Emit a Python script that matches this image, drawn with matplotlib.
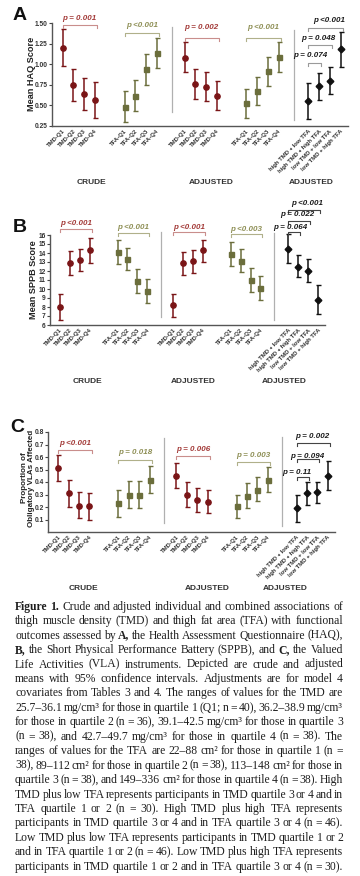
import matplotlib.pyplot as plt

plt.rcParams['font.family'] = ['Liberation Sans', 'DejaVu Sans']

W, H = 360, 876


def fx(x):
    return x / W


def fy(y):
    return 1 - y / H


# x tick labels (20 points per panel)
tick_labels = ['TMD-Q1', 'TMD-Q2', 'TMD-Q3', 'TMD-Q4',
               'TFA-Q1', 'TFA-Q2', 'TFA-Q3', 'TFA-Q4',
               'TMD-Q1', 'TMD-Q2', 'TMD-Q3', 'TMD-Q4',
               'TFA-Q1', 'TFA-Q2', 'TFA-Q3', 'TFA-Q4',
               'high TMD + low TFA', 'high TMD + high TFA',
               'low TMD + low TFA', 'low TMD + high TFA']
group_names = ['CRUDE', 'ADJUSTED', 'ADJUSTED']
group_kind = ['tmd', 'tfa', 'tmd', 'tfa', 'comb']

# A - HAQ
haq_mean = [1.20, 0.75, 0.64, 0.56, 0.48, 0.62, 0.94, 1.14, 1.08, 0.76,
            0.72, 0.62, 0.53, 0.68, 0.92, 1.09, 0.55, 0.73, 0.80, 1.18]
haq_hi = [1.43, 0.94, 0.83, 0.78, 0.67, 0.81, 1.12, 1.32, 1.27, 0.94,
          0.90, 0.80, 0.70, 0.85, 1.09, 1.27, 0.77, 0.89, 0.97, 1.39]
haq_lo = [0.98, 0.55, 0.44, 0.35, 0.30, 0.43, 0.75, 0.95, 0.90, 0.58,
          0.55, 0.45, 0.35, 0.51, 0.74, 0.91, 0.34, 0.57, 0.64, 0.97]
haq_p = ['p = 0.001', 'p <0.001', 'p = 0.002', 'p <0.001']
haq_pc = ['p = 0.074', 'p = 0.048', 'p <0.001']

# B - SPPB
sppb_mean = [8.0, 12.9, 13.2, 14.3, 14.1, 13.3, 10.9, 9.8, 8.2, 12.9,
             13.1, 14.3, 13.9, 13.1, 11.0, 10.1, 14.5, 12.5, 12.0, 8.8]
sppb_hi = [9.4, 14.2, 14.5, 15.7, 15.4, 14.6, 12.2, 11.1, 9.5, 14.1,
           14.3, 15.5, 15.2, 14.4, 12.3, 11.4, 16.1, 13.8, 13.3, 10.4]
sppb_lo = [6.6, 11.6, 12.0, 12.9, 12.8, 12.1, 9.6, 8.5, 6.9, 11.6,
           11.8, 13.0, 12.6, 11.9, 9.7, 8.8, 12.9, 11.3, 10.8, 7.2]
sppb_p = ['p <0.001', 'p <0.001', 'p <0.001', 'p <0.003']
sppb_pc = ['p = 0.064', 'p = 0.022', 'p <0.001']

# C - VLA
vla_mean = [0.51, 0.31, 0.21, 0.21, 0.23, 0.30, 0.30, 0.42, 0.45, 0.30,
            0.26, 0.24, 0.21, 0.29, 0.34, 0.42, 0.19, 0.31, 0.32, 0.45]
vla_hi = [0.62, 0.42, 0.32, 0.31, 0.34, 0.41, 0.41, 0.53, 0.55, 0.40,
          0.35, 0.34, 0.30, 0.39, 0.44, 0.52, 0.30, 0.40, 0.40, 0.57]
vla_lo = [0.41, 0.20, 0.11, 0.10, 0.12, 0.19, 0.19, 0.31, 0.35, 0.20,
          0.16, 0.15, 0.11, 0.19, 0.25, 0.32, 0.08, 0.22, 0.23, 0.34]
vla_p = ['p <0.001', 'p = 0.018', 'p = 0.006', 'p = 0.003']
vla_pc = ['p = 0.11', 'p = 0.094', 'p = 0.002']

caption = [
    'Figure 1. Crude and adjusted individual and combined associations of',
    'thigh muscle density (TMD) and thigh fat area (TFA) with functional',
    'outcomes assessed by A, the Health Assessment Questionnaire (HAQ),',
    'B, the Short Physical Performance Battery (SPPB), and C, the Valued',
    'Life Activities (VLA) instruments. Depicted are crude and adjusted',
    'means with 95% confidence intervals. Adjustments are for model 4',
    'covariates from Tables 3 and 4. The ranges of values for the TMD are',
    '25.7\u201336.1 mg/cm\u00b3 for those in quartile 1 (Q1; n = 40), 36.2\u201338.9 mg/cm\u00b3',
    'for those in quartile 2 (n = 36), 39.1\u201342.5 mg/cm\u00b3 for those in quartile 3',
    '(n = 38), and 42.7\u201349.7 mg/cm\u00b3 for those in quartile 4 (n = 38). The',
    'ranges of values for the TFA are 22\u201388 cm\u00b2 for those in quartile 1 (n =',
    '38), 89\u2013112 cm\u00b2 for those in quartile 2 (n = 38), 113\u2013148 cm\u00b2 for those in',
    'quartile 3 (n = 38), and 149\u2013336 cm\u00b2 for those in quartile 4 (n = 38). High',
    'TMD plus low TFA represents participants in TMD quartile 3 or 4 and in',
    'TFA quartile 1 or 2 (n = 30). High TMD plus high TFA represents',
    'participants in TMD quartile 3 or 4 and in TFA quartile 3 or 4 (n = 46).',
    'Low TMD plus low TFA represents participants in TMD quartile 1 or 2',
    'and in TFA quartile 1 or 2 (n = 46). Low TMD plus high TFA represents',
    'participants in TMD quartile 1 or 2 and in TFA quartile 3 or 4 (n = 30).',
]
bold_words = {'Figure', '1.', 'A,', 'B,', 'C,'}

# x positions of the 5 groups of 4
starts = [1, 6.8, 12.4, 18.2, 24]
x_pos = [s + i for s in starts for i in range(4)]

style = {
    'tmd': dict(fmt='o', color='#7a1517', ms=3.8),
    'tfa': dict(fmt='s', color='#6b6e3c', ms=3.6),
    'comb': dict(fmt='D', color='#111111', ms=3.4),
}
p_color = {'tmd': ('#a33a38', '#c98e8c'), 'tfa': ('#8e8f55', '#b0b08a')}

fig = plt.figure(figsize=(W / 100, H / 100), dpi=100)


def bracket(ax, x0, x1, yb, ty, txt, tick, lcol, tcol, tx=None):
    ax.plot([x0, x0, x1, x1], [yb - tick, yb, yb, yb - tick], color=lcol,
            lw=0.8, clip_on=False)
    if tx is None:
        tx = (x0 + x1) / 2
    ax.text(tx, ty, txt, color=tcol, fontsize=5.8, fontstyle='italic',
            fontweight='bold', ha='center', va='center', clip_on=False)


def panel(rect, mean, lo, hi, ylim, yticks, ytl, gp, gp_y, cp, cp_y,
          comb_line, seps, tick):
    ax = fig.add_axes(rect)
    for g in range(5):
        kind = group_kind[g]
        st = style[kind]
        idx = range(4 * g, 4 * g + 4)
        xs = [x_pos[i] for i in idx]
        ms = [mean[i] for i in idx]
        err = [[mean[i] - lo[i] for i in idx], [hi[i] - mean[i] for i in idx]]
        ax.errorbar(xs, ms, yerr=err, fmt=st['fmt'], color=st['color'],
                    ms=st['ms'], elinewidth=1.1, capsize=1.8, capthick=1.0,
                    clip_on=False)
    # p values of each quartile group
    for g in range(4):
        tcol, lcol = p_color[group_kind[g]]
        x0 = x_pos[4 * g]
        x1 = x_pos[4 * g + 3] + 0.2
        bracket(ax, x0, x1, gp_y[g][0], gp_y[g][1], gp[g], tick, lcol, tcol)
    # p values of combined group
    for k in range(3):
        yb, ty, tx = cp_y[k]
        bracket(ax, x_pos[16], x_pos[17 + k] + 0.2, yb, ty, cp[k], tick,
                comb_line, '#1a1a1a', tx)
    for sx, y0, y1 in seps:
        ax.plot([sx, sx], [y0, y1], color='#b0b0b0', lw=0.9, clip_on=False)
    ax.set_xlim(0, 27.7)
    ax.set_ylim(*ylim)
    ax.set_yticks(yticks, ytl, fontsize=4.8, fontweight='bold', color='#333333')
    ax.set_xticks(x_pos, tick_labels, rotation=45, ha='right',
                  rotation_mode='anchor', fontsize=4.3, fontweight='bold',
                  color='#333333')
    ax.tick_params(axis='x', length=0, pad=2)
    ax.tick_params(axis='y', length=2, width=0.8, pad=1, color='#444444')
    for s in ['top', 'right']:
        ax.spines[s].set_visible(False)
    for s in ['left', 'bottom']:
        ax.spines[s].set_color('#555555')
        ax.spines[s].set_linewidth(1.0)
    ax.patch.set_alpha(0)
    return ax


# panel A
panel([fx(52), fy(126), fx(348) - fx(52), fy(23) - fy(126)],
      haq_mean, haq_lo, haq_hi, (0.25, 1.5),
      [0.25, 0.5, 0.75, 1.0, 1.25, 1.5],
      ['0.25', '0.50', '0.75', '1.00', '1.25', '1.50'],
      haq_p, [(1.47, 1.56), (1.375, 1.47), (1.32, 1.44), (1.32, 1.44)],
      haq_pc, [(1.01, 1.10, 24.2), (1.23, 1.31, 24.95), (1.44, 1.53, 25.9)],
      '#9a9a9a', [(11.2, 0.42, 1.45), (22.6, 0.32, 1.42)], 0.035)

# panel B
panel([fx(50), fy(325), fx(325) - fx(50), fy(235) - fy(325)],
      sppb_mean, sppb_lo, sppb_hi, (6, 16), list(range(6, 17)),
      [str(v) for v in range(6, 17)],
      sppb_p, [(16.65, 17.3), (16.27, 16.8), (16.3, 16.8), (16.1, 16.65)],
      sppb_pc, [(16.3, 16.8, 24.2), (17.6, 18.3, 24.9), (18.8, 19.5, 25.9)],
      '#444444', [(11.2, 6.9, 16.3), (22.6, 6.6, 16.2)], 0.35)

# panel C
panel([fx(48), fy(532), fx(335) - fx(48), fy(432) - fy(532)],
      vla_mean, vla_lo, vla_hi, (0, 0.8),
      [0.1, 0.2, 0.3, 0.4, 0.5, 0.6, 0.7, 0.8],
      ['0.1', '0.2', '0.3', '0.4', '0.5', '0.6', '0.7', '0.8'],
      vla_p, [(0.655, 0.71), (0.58, 0.64), (0.61, 0.66), (0.56, 0.61)],
      vla_pc, [(0.44, 0.48, 24.0), (0.585, 0.605, 25.0), (0.71, 0.76, 25.5)],
      '#444444', [(11.2, 0.07, 0.75), (22.6, 0.05, 0.76)], 0.025)

# panel letters and y labels
for letter, x, y in [('A', 20, 16), ('B', 20, 227), ('C', 17, 428)]:
    fig.text(fx(x), fy(y), letter, fontsize=14, fontweight='bold',
             ha='center', va='center', color='#111111')
fig.text(fx(32), fy(74), 'Mean HAQ Score', rotation=90, fontsize=6.6,
         fontweight='bold', ha='center', va='center', color='#222222')
fig.text(fx(33), fy(280), 'Mean SPPB Score', rotation=90, fontsize=6.6,
         fontweight='bold', ha='center', va='center', color='#222222')
fig.text(fx(28), fy(478), 'Proportion of\nObligatory VLAs Affected',
         rotation=90, fontsize=5.8, fontweight='bold', ha='center',
         va='center', color='#222222', linespacing=1.1)

# group names under each panel
for gy, gxs in [(183, [91, 211, 311]), (381, [87, 193, 284]),
                (588, [83, 207, 285])]:
    for name, gx in zip(group_names, gxs):
        fig.text(fx(gx), fy(gy), name, fontsize=6.0, fontweight='bold',
                 ha='center', va='center', color='#333333')

# caption, justified word by word
left, right = 15, 343
base = 9.0
rows = []
for i, line in enumerate(caption):
    ts = []
    for w in line.split(' '):
        t = fig.text(0, fy(606.7 + 14.45 * i), w, fontsize=base,
                     family=['Liberation Serif', 'DejaVu Serif'],
                     fontweight='bold' if w in bold_words else 'normal',
                     ha='left', va='center', color='#1e1e1e')
        ts.append(t)
    rows.append(ts)

r = fig.canvas.get_renderer()
space = base * 0.17 * 100 / 72
natural = []
for ts in rows:
    ws = [t.get_window_extent(r).width for t in ts]
    natural.append(sum(ws) + space * (len(ws) - 1))
scale = min(1.0, (right - left) / max(natural))
for ts in rows:
    for t in ts:
        t.set_fontsize(base * scale)
    ws = [t.get_window_extent(r).width for t in ts]
    gap = (right - left - sum(ws)) / max(len(ws) - 1, 1)
    x = left
    for t, w in zip(ts, ws):
        t.set_x(fx(x))
        x += w + gap

fig.savefig('out.png', dpi=100)
